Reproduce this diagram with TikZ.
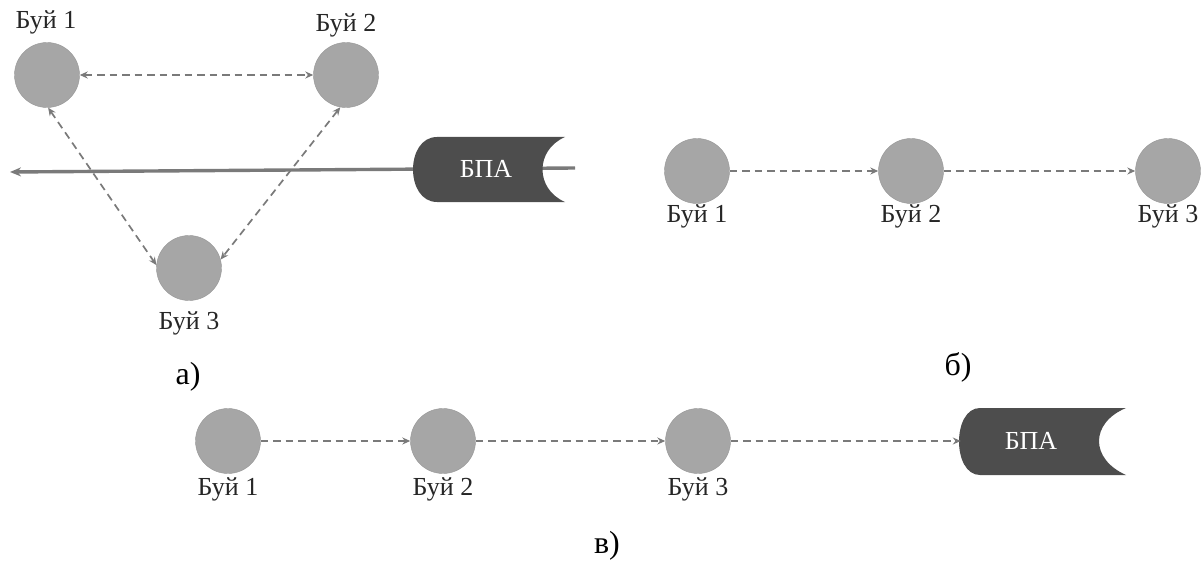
\documentclass[tikz,border=0pt]{standalone}
\usepackage{fontspec}
\setmainfont{Liberation Serif}
\usetikzlibrary{arrows.meta}
\definecolor{buoygray}{HTML}{A6A6A6}
\definecolor{linkgray}{HTML}{7A7A7A}
\definecolor{auvdark}{HTML}{4D4D4D}
\begin{document}
\begin{tikzpicture}[x=1pt,y=-1pt,
  buoy/.style={circle,fill=buoygray,draw=buoygray!90!black,line width=0.4pt,minimum size=65pt,inner sep=0pt},
  tag/.style={font=\fontsize{26}{28}\selectfont,inner sep=0pt,text=black!85},
  caption/.style={font=\fontsize{32}{34}\selectfont,inner sep=0pt},
  link/.style={draw=linkgray,line width=1.7pt,dash pattern=on 7.5pt off 5pt,-{Stealth[length=8pt,width=7pt]}},
  biglink/.style={link,{Stealth[length=8pt,width=7pt]}-{Stealth[length=8pt,width=7pt]}},
  track/.style={draw=linkgray,line width=3.4pt,-{Stealth[length=11pt,width=9pt]}},
  auvbox/.style={draw=none,minimum width=166pt,minimum height=68pt,inner sep=0pt,text=white,font=\fontsize{26}{28}\selectfont}
]
\useasboundingbox (0,0) rectangle (1201,564);

% ---------- a) triangle of buoys with the vehicle crossing it
\coordinate (trackstart) at (575,168);
\coordinate (trackend) at (10,172);
\draw[track] (trackstart) -- (trackend);

\fill[auvdark] (437,137) -- (565,137) .. controls (535,150) and (535,189) .. (565,202)
  -- (437,202) .. controls (405,202) and (405,137) .. (437,137) -- cycle;
\node[auvbox] (auvA) at (486,169) {БПА};

\node[buoy] (a1) at (47,75) {};
\node[buoy] (a2) at (346,75) {};
\node[buoy] (a3) at (189,268) {};
\node[tag] (la1) at (46,22) {Буй 1};
\node[tag] (la2) at (346,25) {Буй 2};
\node[tag] (la3) at (189,323) {Буй 3};

\draw[biglink] (a1.east) -- (a2.west);
\draw[biglink] (a1.-88) -- (a3.175);
\draw[biglink] (a2.-100) -- (a3.15);

\node[caption] (capA) at (188,377) {а)};

% ---------- b) chain of buoys
\node[buoy] (b1) at (697,171) {};
\node[buoy] (b2) at (911,171) {};
\node[buoy] (b3) at (1168,171) {};
\node[tag] (lb1) at (697,216) {Буй 1};
\node[tag] (lb2) at (911,216) {Буй 2};
\node[tag] (lb3) at (1168,216) {Буй 3};
\draw[link] (b1.east) -- (b2.west);
\draw[link] (b2.east) -- (b3.west);

\node[caption] (capB) at (958,367) {б)};

% ---------- c) chain of buoys ending at the vehicle
\node[buoy] (c1) at (228,441) {};
\node[buoy] (c2) at (443,441) {};
\node[buoy] (c3) at (698,441) {};
\node[tag] (lc1) at (228,489) {Буй 1};
\node[tag] (lc2) at (443,489) {Буй 2};
\node[tag] (lc3) at (698,489) {Буй 3};

\fill[auvdark] (980,408) -- (1126,408) .. controls (1090,423) and (1090,459) .. (1126,475)
  -- (980,475) .. controls (952,475) and (952,408) .. (980,408) -- cycle;
\node[auvbox] (auvC) at (1044,441) {};
\node[text=white,font=\fontsize{26}{28}\selectfont,inner sep=0pt] (auvCtext) at (1031,441) {БПА};

\draw[link] (c1.east) -- (c2.west);
\draw[link] (c2.east) -- (c3.west);
\draw[link] (c3.east) -- (auvC.west);

\node[caption] (capC) at (607,546) {в)};
\end{tikzpicture}
\end{document}
